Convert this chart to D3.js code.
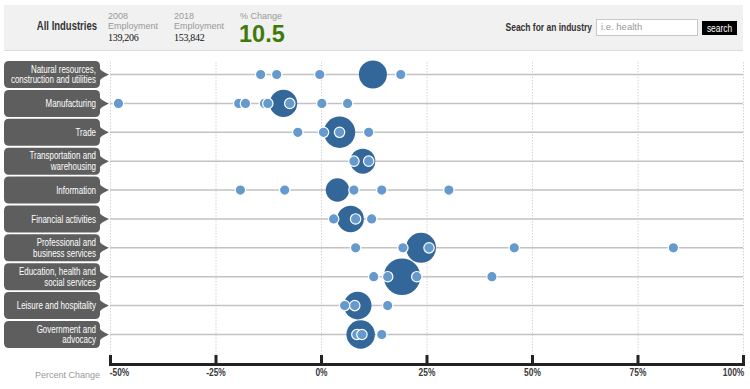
<!DOCTYPE html>
<meta charset="utf-8">
<style>
  body { margin: 0; background: #fff; }
  svg { font-family: "Liberation Sans", Arial, sans-serif; }
  .axis path, .axis line { stroke: #222; stroke-width: 3; }
  .axis text { font-family: "Liberation Sans", Arial, sans-serif; font-size: 10.5px; font-weight: bold; fill: #3a3a3a; }
</style>
<body>
<svg id="chart" width="750" height="389"></svg>
<script src="https://cdn.jsdelivr.net/npm/d3@7"></script>
<script>
  // industries, aggregate % change and bubble weight
  var industries = [
    ["Natural resources,", "construction and utilities"],
    ["Manufacturing"],
    ["Trade"],
    ["Transportation and", "warehousing"],
    ["Information"],
    ["Financial activities"],
    ["Professional and", "business services"],
    ["Education, health and", "social services"],
    ["Leisure and hospitality"],
    ["Government and", "advocacy"]
  ];
  var industryChange = [12.3, -8.9, 4.4, 9.9, 3.9, 7.0, 23.7, 19.2, 8.7, 9.4];
  var industryWeight = [196, 188, 246, 156, 137, 177, 225, 335, 190, 202];

  // occupation-level % change inside each industry
  var occupationChange = [
    [-14.3, -10.5, -0.3, 18.9],
    [-48.0, -19.5, -17.9, -13.4, -12.6, -7.4, 0.2, 6.3],
    [-5.5, 0.6, 4.4, 11.3],
    [7.8, 11.3],
    [-19.1, -8.6, 7.8, 14.4, 30.3],
    [3.0, 8.2, 12.0],
    [8.2, 19.4, 25.6, 45.8, 83.5],
    [12.5, 15.8, 22.7, 40.5],
    [5.6, 8.0, 15.8],
    [8.5, 9.7, 14.4]
  ];

  var tickValues = [-50, -25, 0, 25, 50, 75, 100];

  var svg = d3.select("#chart");

  // narrow text: the original uses a condensed face, squeeze a normal one
  var narrow = function (g, x, y, str, size, weight, sx, anchor, fill) {
    return g.append("text")
      .attr("transform", "translate(" + x + "," + y + ") scale(" + sx + ",1)")
      .attr("text-anchor", anchor).attr("font-size", size).attr("font-weight", weight)
      .attr("fill", fill).text(str);
  };

  // ---- header band
  var head = svg.append("g");
  head.append("rect").attr("x", 4).attr("y", 5).attr("width", 739).attr("height", 45).attr("fill", "#f1f1f1");
  head.append("line").attr("x1", 4).attr("x2", 743).attr("y1", 50.5).attr("y2", 50.5).attr("stroke", "#dcdcdc");

  narrow(head, 97, 30, "All Industries", 12.5, "bold", 0.76, "end", "#333");

  var stats = [
    { x: 108, top: "2008", mid: "Employment", val: "139,206" },
    { x: 174, top: "2018", mid: "Employment", val: "153,842" }
  ];
  stats.forEach(function (s) {
    head.append("text").attr("x", s.x).attr("y", 19).attr("font-size", 9).attr("fill", "#999").text(s.top);
    head.append("text").attr("x", s.x).attr("y", 28.5).attr("font-size", 9).attr("fill", "#999").text(s.mid);
    head.append("text").attr("x", s.x).attr("y", 41).style("font-family", "'Liberation Serif', serif")
      .attr("font-size", 10).attr("fill", "#111").attr("letter-spacing", -0.3).text(s.val);
  });
  head.append("text").attr("x", 240).attr("y", 19).attr("font-size", 9).attr("fill", "#999").text("% Change");
  head.append("text").attr("x", 239).attr("y", 42)
    .attr("font-size", 23.5).attr("font-weight", "bold").attr("fill", "#3f7a0c").text("10.5");

  narrow(head, 592, 31, "Seach for an industry", 11, "bold", 0.77, "end", "#333");
  head.append("rect").attr("x", 596.5).attr("y", 19.5).attr("width", 101).attr("height", 16)
    .attr("fill", "#fff").attr("stroke", "#c8c8c8");
  head.append("text").attr("x", 601).attr("y", 30).attr("font-size", 9.5).attr("fill", "#999").text("i.e. health");
  head.append("rect").attr("x", 702).attr("y", 21).attr("width", 35).attr("height", 14).attr("fill", "#000");
  narrow(head, 719.5, 31.5, "search", 10.5, "normal", 0.8, "middle", "#fff");

  // ---- scales
  var x = d3.scaleLinear().domain([-50, 100]).range([110, 743]);
  var y = d3.scalePoint().domain(d3.range(industries.length)).range([74.5, 334.5]);
  var r = d3.scaleSqrt().domain([0, d3.max(industryWeight)]).range([0, 18.3]);

  // vertical dotted grid
  svg.append("g").selectAll("line").data(tickValues).enter().append("line")
    .attr("x1", d => x(d) + 0.5).attr("x2", d => x(d) + 0.5)
    .attr("y1", 62).attr("y2", 356)
    .attr("stroke", "#d4d4d4").attr("stroke-dasharray", "1.5,1.5");

  // row lines
  svg.append("g").selectAll("line").data(industries).enter().append("line")
    .attr("x1", 110).attr("x2", 743)
    .attr("y1", (d, i) => y(i)).attr("y2", (d, i) => y(i))
    .attr("stroke", "#c2c2c2").attr("stroke-width", 1.5);

  // label tabs
  var tab = function (cy) {
    var l = 4, rr = 100, t = cy - 13.5, b = cy + 13.5, c = 5, tip = 109;
    return "M" + (l + c) + "," + t + "H" + (rr - c) + "Q" + rr + "," + t + " " + rr + "," + (t + c) +
      "V" + (cy - 6) + "Q" + rr + "," + (cy - 4) + " " + tip + "," + cy +
      "Q" + rr + "," + (cy + 4) + " " + rr + "," + (cy + 6) +
      "V" + (b - c) + "Q" + rr + "," + b + " " + (rr - c) + "," + b +
      "H" + (l + c) + "Q" + l + "," + b + " " + l + "," + (b - c) +
      "V" + (t + c) + "Q" + l + "," + t + " " + (l + c) + "," + t + "Z";
  };
  var labels = svg.append("g").selectAll("g").data(industries).enter().append("g");
  labels.append("path").attr("d", (d, i) => tab(y(i))).attr("fill", "#5e5e5e");
  labels.each(function (d, i) {
    var g = d3.select(this);
    var y0 = y(i) + 3.6 - (d.length - 1) * 5.3;
    d.forEach(function (line, j) {
      narrow(g, 96, y0 + j * 10.6, line, 10.5, "normal", 0.76, "end", "#fff");
    });
  });

  // aggregate bubbles
  svg.append("g").selectAll("circle").data(industryChange).enter().append("circle")
    .attr("cx", d => x(d)).attr("cy", (d, i) => y(i))
    .attr("r", (d, i) => r(industryWeight[i]))
    .attr("fill", "#336699");

  // occupation dots
  var rows = svg.append("g").selectAll("g").data(occupationChange).enter().append("g");
  rows.selectAll("circle").data((d, i) => d.map(v => ({ v: v, i: i }))).enter().append("circle")
    .attr("cx", d => x(d.v)).attr("cy", d => y(d.i))
    .attr("r", 5.2)
    .attr("fill", "#6699cc").attr("stroke", "#fff").attr("stroke-width", 1.2);

  // axis
  var axis = svg.append("g").attr("class", "axis").attr("transform", "translate(0,364)")
    .call(d3.axisBottom(x).tickValues(tickValues).tickSize(-9).tickSizeOuter(0).tickPadding(5)
      .tickFormat(d => d + "%"));
  axis.select(".domain").attr("stroke-linecap", "square");
  axis.selectAll(".tick text")
    .attr("transform", "scale(0.8,1)")
    .attr("text-anchor", (d, i) => i == 0 ? "start" : (i == tickValues.length - 1 ? "end" : "middle"))
    .attr("x", (d, i) => i == 0 ? -1 : (i == tickValues.length - 1 ? 1 : 0));

  svg.append("text").attr("x", 100).attr("y", 378).attr("text-anchor", "end")
    .attr("font-size", 9).attr("fill", "#999").text("Percent Change");
</script>
</body>
